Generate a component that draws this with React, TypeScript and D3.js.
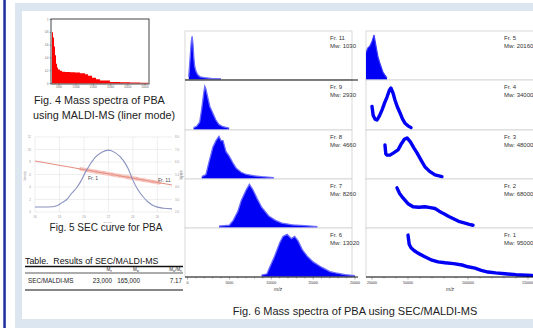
import React from "react";
import * as d3 from "d3";

const FONT = "'Liberation Sans', Arial, Helvetica, sans-serif";

// ---- Fig. 4: MALDI-MS spectrum of PBA (linear mode) ----
const fig4Mz = [930, 1510, 2090, 2680, 3260, 3840, 4420, 5580, 6740, 8490, 11400, 14300, 17200, 20100, 21900, 24200, 26500, 28800, 34600, 40500, 46300, 52100, 56700];
const fig4Int = [0.8, 0.72, 0.58, 0.44, 0.31, 0.25, 0.22, 0.2, 0.185, 0.18, 0.175, 0.17, 0.16, 0.145, 0.12, 0.09, 0.065, 0.045, 0.025, 0.018, 0.014, 0.01, 0.006];
const fig4XTicks = [5000, 15000, 25000, 35000, 45000, 55000];
const fig4YTicks = [0, 0.2, 0.4, 0.6, 0.8, 1];

// ---- Fig. 5: SEC curve ----
const secTime = [16, 17.1, 17.8, 18.2, 18.6, 19.0, 19.45, 19.8, 20.1, 20.5, 20.9, 21.5, 22.0, 22.55, 23.2, 23.6, 24.0, 24.4, 24.85, 25.25, 25.7, 26.5, 27.2];
const secSignal = [0.8, 0.8, 1.0, 1.5, 2.0, 3.0, 4.0, 5.1, 6.3, 7.6, 8.7, 9.6, 9.9, 9.5, 8.3, 7.0, 5.1, 3.6, 2.4, 1.6, 1.0, 0.6, 0.5];
const calibTime = [16, 27.2];
const calibLogM = [6.08, 4.16];
const fracTime = [19.7, 20.3, 21.0, 21.6, 22.3, 22.9, 23.6, 24.3, 24.9, 25.6, 26.2];
const fracLogM = [5.45, 5.34, 5.22, 5.12, 5.0, 4.9, 4.78, 4.66, 4.55, 4.43, 4.33];
const secXTicks = [16, 18, 20, 22, 24, 26];
const secYTicks = [0, 2, 4, 6, 8, 10, 12];
const logMTicks = [2, 3, 4, 5, 6, 7, 8];

// ---- Table ----
const tableCols = ["n", "w", "w/n"];
const tableRow = ["SEC/MALDI-MS", "23,000", "165,000", "7.17"];

// ---- Fig. 6: SEC/MALDI-MS spectra per fraction ----
const leftLabels = ["Fr. 11", "Fr. 9", "Fr. 8", "Fr. 7", "Fr. 6"];
const leftMw = ["1030", "2930", "4660", "8260", "13020"];
const rightLabels = ["Fr. 5", "Fr. 4", "Fr. 3", "Fr. 2", "Fr. 1"];
const rightMw = ["20160", "34000", "48000", "68000", "95000"];

const fr11Mz = [150, 300, 450, 550, 650, 750, 850, 1000, 1200, 1500, 2000, 3000, 4000];
const fr11Int = [0.05, 0.45, 0.85, 0.97, 0.8, 0.5, 0.3, 0.18, 0.1, 0.05, 0.03, 0.01, 0.005];
const fr9Mz = [730, 1090, 1450, 1700, 1940, 2060, 2180, 2420, 2670, 2910, 3150, 3390, 3760, 4240, 4970];
const fr9Int = [0.03, 0.06, 0.15, 0.45, 0.8, 0.95, 0.9, 0.7, 0.5, 0.4, 0.3, 0.2, 0.1, 0.05, 0.02];
const fr8Mz = [1700, 2200, 2550, 3030, 3400, 3760, 4000, 4240, 4600, 4970, 5400, 5820, 6400, 7030, 8000, 8850, 10300];
const fr8Int = [0.03, 0.08, 0.35, 0.7, 0.85, 0.95, 0.85, 0.85, 0.6, 0.5, 0.35, 0.22, 0.13, 0.08, 0.05, 0.03, 0.01];
const fr7Mz = [3760, 5000, 5460, 6000, 6420, 7030, 7390, 7800, 8300, 8850, 9700, 10500, 11270, 12500, 14000, 15500];
const fr7Int = [0.02, 0.04, 0.15, 0.35, 0.6, 0.85, 0.97, 0.85, 0.65, 0.45, 0.25, 0.15, 0.09, 0.05, 0.03, 0.01];
const fr6Mz = [8850, 9500, 9700, 10400, 11000, 11400, 11900, 12400, 12800, 13200, 13700, 14300, 15000, 16000, 17000, 17700, 18800, 20000];
const fr6Int = [0.02, 0.05, 0.15, 0.45, 0.75, 0.9, 0.95, 0.85, 0.9, 0.8, 0.6, 0.45, 0.32, 0.2, 0.1, 0.07, 0.03, 0.01];

const fr5Mz = [15000, 16500, 18300, 20000, 21700, 23000, 25000, 26700, 29200, 32500];
const fr5Int = [0.6, 0.7, 0.75, 0.85, 1.0, 0.8, 0.5, 0.35, 0.15, 0.02];
const fr4Mz = [20000, 21000, 22500, 24200, 26000, 28300, 30500, 32500, 34500, 35800, 37500, 39200, 41000, 43300, 45500, 47500, 50000, 52500];
const fr4Int = [0.5, 0.3, 0.22, 0.2, 0.28, 0.42, 0.58, 0.71, 0.86, 0.91, 0.8, 0.64, 0.5, 0.36, 0.22, 0.13, 0.07, 0.03];
const fr3Mz = [30800, 31500, 32500, 35000, 38000, 41700, 44500, 47000, 49200, 52000, 55000, 57500, 61000, 64200, 68000, 72500, 78300];
const fr3Int = [0.75, 0.55, 0.52, 0.52, 0.57, 0.64, 0.78, 0.88, 0.91, 0.82, 0.68, 0.57, 0.4, 0.25, 0.15, 0.07, 0.03];
const fr2Mz = [40800, 43000, 45800, 50000, 54200, 59000, 64200, 68500, 72500, 76000, 79200, 84000, 89200, 93000, 97500, 101000, 104200];
const fr2Int = [0.89, 0.76, 0.66, 0.53, 0.46, 0.45, 0.46, 0.44, 0.42, 0.36, 0.31, 0.24, 0.17, 0.12, 0.09, 0.06, 0.04];
const fr1Mz = [50000, 51000, 52500, 55000, 58300, 64000, 70000, 75000, 80800, 88000, 95000, 100000, 105800, 111000, 116700, 123000, 130800, 140000, 153300];
const fr1Int = [0.93, 0.72, 0.64, 0.58, 0.52, 0.44, 0.36, 0.32, 0.3, 0.28, 0.25, 0.21, 0.18, 0.13, 0.09, 0.07, 0.05, 0.03, 0.01];

const leftMzSets = [fr11Mz, fr9Mz, fr8Mz, fr7Mz, fr6Mz];
const leftIntSets = [fr11Int, fr9Int, fr8Int, fr7Int, fr6Int];
const rightMzSets = [fr5Mz, fr4Mz, fr3Mz, fr2Mz, fr1Mz];
const rightIntSets = [fr5Int, fr4Int, fr3Int, fr2Int, fr1Int];

const leftTicks = [0, 5000, 10000, 15000, 20000];
const rightTicks = [20000, 50000, 100000, 150000];

// panel boundaries (layout)
const rowY = [31, 80, 130, 179, 228, 277];

export default function App() {
  const W = 533;
  const H = 328;

  // Fig 4 scales
  const f4x = d3.scaleLinear().domain([350, 57300]).range([51, 149]);
  const f4y = d3.scaleLinear().domain([0, 1]).range([83.5, 19.5]);
  const f4area = d3
    .area<number>()
    .x((_, i) => f4x(fig4Mz[i]))
    .y0(f4y(0))
    .y1((d) => f4y(d))
    .curve(d3.curveStepAfter);

  // Fig 5 scales
  const sx = d3.scaleLinear().domain([16, 27.2]).range([35, 172]);
  const sy = d3.scaleLinear().domain([0, 12]).range([212, 137]);
  const sy2 = d3.scaleLinear().domain([2, 8]).range([212, 137]);
  const secLine = d3
    .line<number>()
    .x((_, i) => sx(secTime[i]))
    .y((d) => sy(d))
    .curve(d3.curveMonotoneX);
  const calLine = d3
    .line<number>()
    .x((_, i) => sx(calibTime[i]))
    .y((d) => sy2(d));
  const fracLine = d3
    .line<number>()
    .x((_, i) => sx(fracTime[i]))
    .y((d) => sy2(d));

  // Fig 6 scales
  const lx = d3.scaleLinear().domain([0, 20000]).range([187.5, 355]);
  const rx = d3.scaleLinear().domain([15000, 150000]).range([366, 528]);

  const panelY = (i: number) =>
    d3.scaleLinear().domain([0, 1]).range([rowY[i + 1] - 1, rowY[i] + 4]);

  const leftPanels = leftLabels.map((lab, i) => {
    const y = panelY(i);
    const mz = leftMzSets[i];
    const area = d3
      .area<number>()
      .x((_, k) => lx(mz[k]))
      .y0(rowY[i + 1] - 0.5)
      .y1((d) => y(d));
    const top = d3
      .line<number>()
      .x((_, k) => lx(mz[k]))
      .y((d) => y(d));
    return (
      <g key={lab}>
        <rect x={185} y={rowY[i]} width={167} height={rowY[i + 1] - rowY[i]} fill="#fff" stroke="#cfcfcf" strokeWidth={0.8} />
        <g clipPath="url(#clipL)">
          <path d={area(leftIntSets[i]) || ""} fill="#0000f5" />
          <path d={top(leftIntSets[i]) || ""} fill="none" stroke="#6b6bff" strokeWidth={1.3} />
        </g>
        <text x={330} y={rowY[i] + 9} fontSize={6} fill="#333">{lab}</text>
        <text x={330} y={rowY[i] + 16.5} fontSize={6} fill="#333">{`Mw: ${leftMw[i]}`}</text>
      </g>
    );
  });

  const rightPanels = rightLabels.map((lab, i) => {
    const y = panelY(i);
    const mz = rightMzSets[i];
    const line = d3
      .line<number>()
      .x((_, k) => rx(mz[k]))
      .y((d) => y(d));
    const area = d3
      .area<number>()
      .x((_, k) => rx(mz[k]))
      .y0(rowY[i + 1] - 0.5)
      .y1((d) => y(d));
    return (
      <g key={lab}>
        <rect x={366} y={rowY[i]} width={180} height={rowY[i + 1] - rowY[i]} fill="#fff" stroke="#cfcfcf" strokeWidth={0.8} />
        <g clipPath="url(#clipR)">
          {i === 0 ? (
            <>
              <path d={area(rightIntSets[i]) || ""} fill="#0000f5" />
              <path d={line(rightIntSets[i]) || ""} fill="none" stroke="#3a3aff" strokeWidth={1.2} />
            </>
          ) : (
            <path d={line(rightIntSets[i]) || ""} fill="none" stroke="#0000f5" strokeWidth={3.4} strokeLinejoin="round" strokeLinecap="round" />
          )}
        </g>
        <text x={504} y={rowY[i] + 9} fontSize={6} fill="#333">{lab}</text>
        <text x={504} y={rowY[i] + 16.5} fontSize={6} fill="#333">{`Mw: ${rightMw[i]}`}</text>
      </g>
    );
  });

  const leftMinor = d3.range(0, 20001, 1000);
  const rightMinor = d3.range(20000, 150001, 10000);

  return (
    <svg
      width={W}
      height={H}
      viewBox={`0 0 ${W} ${H}`}
      style={{ position: "absolute", left: 0, top: 0, fontFamily: FONT }}
    >
      <defs>
        <clipPath id="clipL">
          <rect x={185} y={31} width={175} height={246} />
        </clipPath>
        <clipPath id="clipR">
          <rect x={366} y={31} width={170} height={246} />
        </clipPath>
      </defs>

      {/* page background */}
      <rect width={W} height={H} fill="#fff" />
      <rect x={3.3} y={0} width={2.5} height={H} fill="#1c2ea0" />
      <rect x={15} y={3} width={W - 15} height={H - 3} fill="#dce6f1" />
      <rect x={22} y={11} width={W - 22} height={308} fill="#fff" />

      {/* ---- Fig. 4 ---- */}
      <g>
        <path d={f4area(fig4Int) || ""} fill="#ff0000" />
        <rect x={51} y={19} width={98} height={65} fill="none" stroke="#444" strokeWidth={1} />
        {fig4XTicks.map((t) => (
          <g key={t}>
            <line x1={f4x(t)} x2={f4x(t)} y1={84} y2={85.5} stroke="#444" strokeWidth={0.5} />
            <text x={f4x(t)} y={88} fontSize={2.6} fill="#666" textAnchor="middle">{t}</text>
          </g>
        ))}
        {fig4YTicks.map((t) => (
          <g key={t}>
            <line x1={49.5} x2={51} y1={f4y(t)} y2={f4y(t)} stroke="#444" strokeWidth={0.5} />
            <text x={48.5} y={f4y(t) + 1} fontSize={2.6} fill="#666" textAnchor="end">{t}</text>
          </g>
        ))}
        <text x={34} y={104} fontSize={10.8} fill="#222">Fig. 4 Mass spectra of PBA</text>
        <text x={33} y={119} fontSize={10.8} fill="#222">using MALDI-MS (liner mode)</text>
      </g>

      {/* ---- Fig. 5 ---- */}
      <g>
        {secXTicks.map((t) => (
          <line key={t} x1={sx(t)} x2={sx(t)} y1={137} y2={212} stroke="#e2e2e2" strokeWidth={0.6} />
        ))}
        {secYTicks.map((t) => (
          <line key={t} x1={35} x2={172} y1={sy(t)} y2={sy(t)} stroke="#e2e2e2" strokeWidth={0.6} />
        ))}
        {secXTicks.map((t) => (
          <text key={t} x={sx(t)} y={217.5} fontSize={3} fill="#999" textAnchor="middle">{t}</text>
        ))}
        {secYTicks.map((t) => (
          <text key={t} x={31} y={sy(t) + 1} fontSize={3} fill="#999" textAnchor="end">{t}</text>
        ))}
        {logMTicks.map((t) => (
          <text key={t} x={175} y={sy2(t) + 1} fontSize={3} fill="#999">{t.toFixed(1)}</text>
        ))}
        <text x={108} y={222.5} fontSize={2.4} fill="#999" textAnchor="middle">RT (min)</text>
        <text transform="translate(26,176) rotate(-90)" fontSize={2.6} fill="#999" textAnchor="middle">Intensity</text>
        <text transform="translate(183,176) rotate(-90)" fontSize={2.6} fill="#999" textAnchor="middle">log M</text>
        <path d={fracLine(fracLogM) || ""} fill="none" stroke="#f6c2bb" strokeWidth={4} opacity={0.85} />
        <path d={calLine(calibLogM) || ""} fill="none" stroke="#e0806f" strokeWidth={0.9} />
        {fracTime.map((t, i) => (
          <circle key={t} cx={sx(t)} cy={sy2(fracLogM[i])} r={1.4} fill="#eea59b" />
        ))}
        <path d={secLine(secSignal) || ""} fill="none" stroke="#8a92bf" strokeWidth={1.1} />
        <text x={88} y={180} fontSize={5} fill="#444">Fr. 1</text>
        <text x={158} y={182} fontSize={5} fill="#444">Fr. 11</text>
        <text x={106} y={231} fontSize={10} fill="#222" textAnchor="middle">Fig. 5 SEC curve for PBA</text>
      </g>

      {/* ---- Table ---- */}
      <g>
        <text x={25} y={263.5} fontSize={8.8} fill="#111" style={{ whiteSpace: "pre" }}>{"Table.  Results of SEC/MALDI-MS"}</text>
        <line x1={25} x2={183} y1={266.5} y2={266.5} stroke="#111" strokeWidth={1.3} />
        {tableCols.map((c, i) => {
          const xr = [112, 139, 182][i];
          return (
            <text key={c} x={xr} y={271} fontSize={4.6} fill="#333" textAnchor="end">
              {c === "w/n" ? (
                <>
                  M<tspan fontSize={3} dy={0.8}>w</tspan>
                  <tspan dy={-0.8}>/M</tspan>
                  <tspan fontSize={3} dy={0.8}>n</tspan>
                </>
              ) : (
                <>
                  M<tspan fontSize={3} dy={0.8}>{c}</tspan>
                </>
              )}
            </text>
          );
        })}
        <line x1={25} x2={183} y1={273} y2={273} stroke="#111" strokeWidth={0.7} />
        <text x={28} y={283} fontSize={6.3} fill="#222">{tableRow[0]}</text>
        <text x={112} y={283} fontSize={6.3} fill="#222" textAnchor="end">{tableRow[1]}</text>
        <text x={140} y={283} fontSize={6.3} fill="#222" textAnchor="end">{tableRow[2]}</text>
        <text x={182} y={283} fontSize={6.3} fill="#222" textAnchor="end">{tableRow[3]}</text>
        <line x1={25} x2={183} y1={290} y2={290} stroke="#111" strokeWidth={1.1} />
      </g>

      {/* ---- Fig. 6 ---- */}
      {leftPanels}
      {rightPanels}
      <line x1={185} x2={358} y1={80} y2={80} stroke="#111" strokeWidth={1} />
      <line x1={185} x2={358} y1={277} y2={277} stroke="#111" strokeWidth={1} />
      <line x1={366} x2={W} y1={277} y2={277} stroke="#111" strokeWidth={1} />
      {leftMinor.map((t) => (
        <line key={t} x1={lx(t)} x2={lx(t)} y1={277} y2={leftTicks.includes(t) ? 279.5 : 278.5} stroke="#333" strokeWidth={0.4} />
      ))}
      {rightMinor.map((t) => (
        <line key={t} x1={rx(t)} x2={rx(t)} y1={277} y2={rightTicks.includes(t) ? 279.5 : 278.5} stroke="#333" strokeWidth={0.4} />
      ))}
      {leftTicks.map((t) => (
        <text key={t} x={lx(t)} y={283.5} fontSize={3.6} fill="#333" textAnchor="middle">{t}</text>
      ))}
      {rightTicks.map((t) => (
        <text key={t} x={rx(t)} y={283.5} fontSize={3.6} fill="#333" textAnchor="middle">{t}</text>
      ))}
      <text x={278} y={291} fontSize={5} fontStyle="italic" fill="#333" textAnchor="middle">m/z</text>
      <text x={450} y={291} fontSize={5} fontStyle="italic" fill="#333" textAnchor="middle">m/z</text>
      <text transform="translate(182,175) rotate(-90)" fontSize={2.6} fill="#888" textAnchor="middle">Intensity</text>
      <text x={355} y={315} fontSize={11} fill="#222" textAnchor="middle">Fig. 6 Mass spectra of PBA using SEC/MALDI-MS</text>
    </svg>
  );
}
